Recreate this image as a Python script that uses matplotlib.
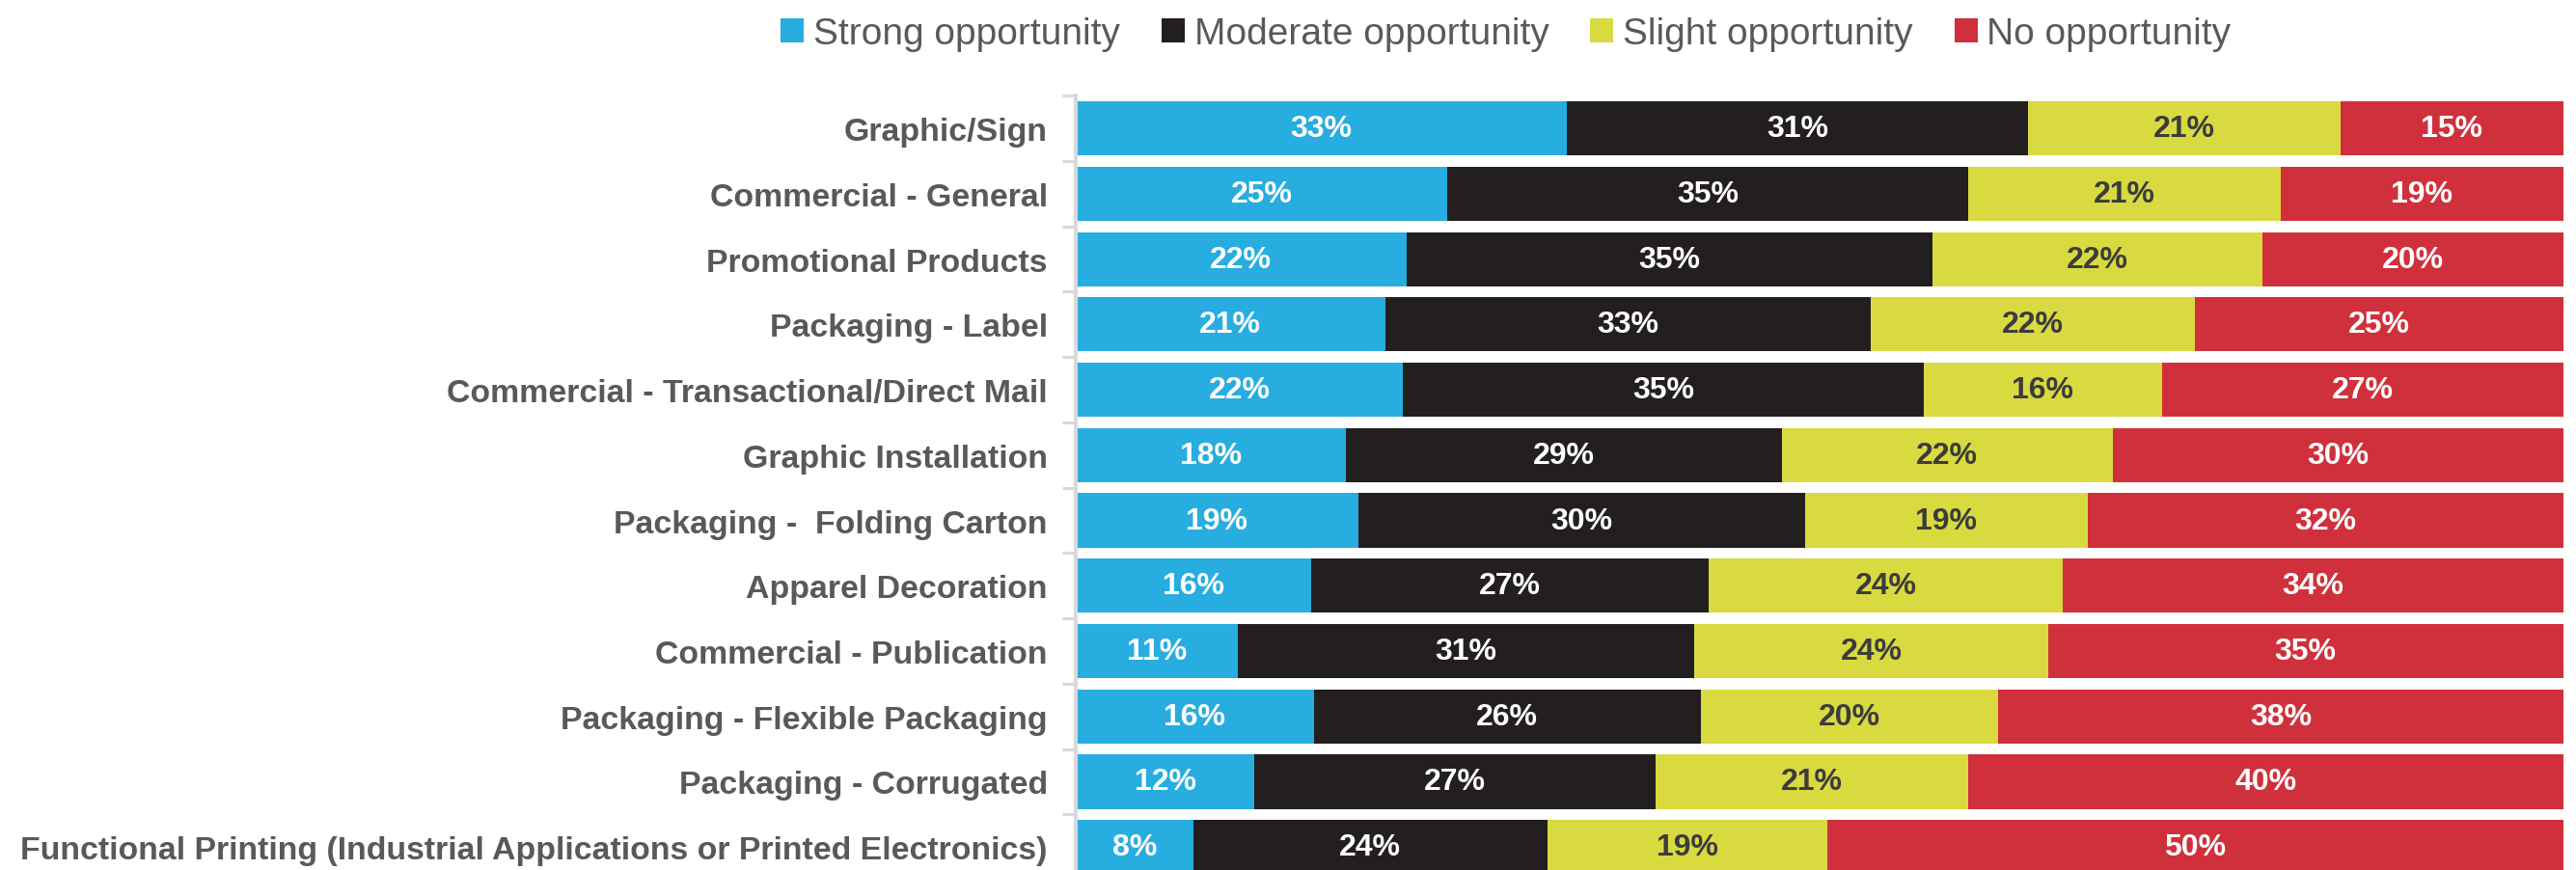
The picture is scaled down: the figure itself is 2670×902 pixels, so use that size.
import numpy as np
import matplotlib.pyplot as plt
from matplotlib.ticker import FixedLocator

plt.rcParams['font.family'] = ['Liberation Sans', 'DejaVu Sans']

categories = [
    'Graphic/Sign',
    'Commercial - General',
    'Promotional Products',
    'Packaging - Label',
    'Commercial - Transactional/Direct Mail',
    'Graphic Installation',
    'Packaging -  Folding Carton',
    'Apparel Decoration',
    'Commercial - Publication',
    'Packaging - Flexible Packaging',
    'Packaging - Corrugated',
    'Functional Printing (Industrial Applications or Printed Electronics)',
]
series_names = ['Strong opportunity', 'Moderate opportunity', 'Slight opportunity', 'No opportunity']
strong = [33, 25, 22, 21, 22, 18, 19, 16, 11, 16, 12, 8]
moderate = [31, 35, 35, 33, 35, 29, 30, 27, 31, 26, 27, 24]
slight = [21, 21, 22, 22, 16, 22, 19, 24, 24, 20, 21, 19]
none_ = [15, 19, 20, 25, 27, 30, 32, 34, 35, 38, 40, 50]

colors = ['#27ADE0', '#231F20', '#D8DA40', '#D0303C']
text_colors = ['white', 'white', '#3C3C3C', 'white']

values = np.array([strong, moderate, slight, none_], dtype=float)
shares = values / values.sum(axis=0) * 100  # 100% stacked

fig = plt.figure(figsize=(26.7, 9.03), dpi=100)
ax = fig.add_axes([0.4176, -0.0111, 0.5775, 0.9])

y = np.arange(len(categories))
left = np.zeros(len(categories))
for i, name in enumerate(series_names):
    bars = ax.barh(y, shares[i], left=left, height=0.83, color=colors[i],
                   label=name, linewidth=0)
    for j, b in enumerate(bars):
        ax.text(b.get_x() + b.get_width() / 2, y[j], f'{int(values[i, j])}%',
                ha='center', va='center', fontsize=23, fontweight='bold',
                color=text_colors[i])
    left += shares[i]

ax.set_xlim(0, 100)
ax.set_ylim(len(categories) - 0.5, -0.5)
ax.set_yticks(y)
ax.set_yticklabels(categories, fontsize=24.4, fontweight='bold', color='#595959')
ax.yaxis.set_minor_locator(FixedLocator(np.arange(-0.5, len(categories), 1)))
ax.tick_params(axis='y', which='major', length=0, pad=21)
ax.tick_params(axis='y', which='minor', length=10, width=2.2, color='#D9D9D9')
ax.set_xticks([])
for s in ['top', 'right', 'bottom']:
    ax.spines[s].set_visible(False)
ax.spines['left'].set_color('#D9D9D9')
ax.spines['left'].set_linewidth(2.9)

fig.legend(loc='center', bbox_to_anchor=(0.5846, 1 - 36 / 903), ncol=4,
           frameon=False, fontsize=28, labelcolor='#595959',
           handlelength=0.62, handleheight=0.59, handletextpad=0.25,
           columnspacing=1.1)

fig.savefig('out.png', dpi=100)
